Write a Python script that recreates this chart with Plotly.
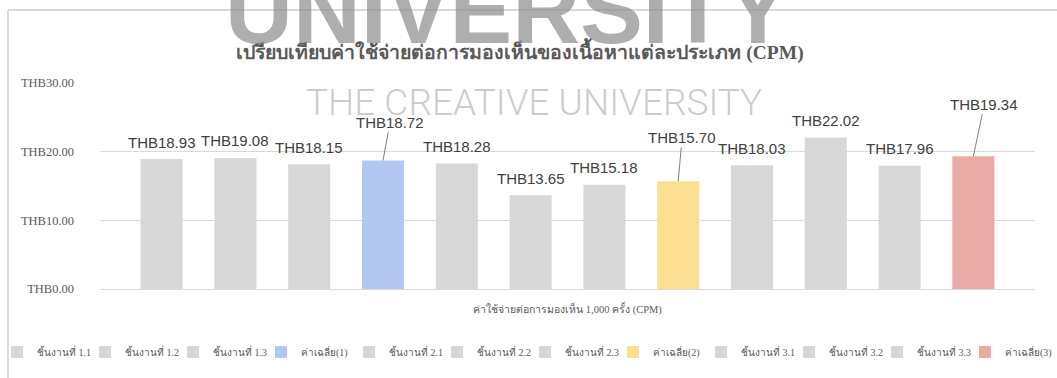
import plotly.graph_objects as go

# Cost per 1,000 impressions (THB) for each content piece and the group averages
series_names = [
    "ชิ้นงานที่ 1.1", "ชิ้นงานที่ 1.2", "ชิ้นงานที่ 1.3", "ค่าเฉลี่ย(1)",
    "ชิ้นงานที่ 2.1", "ชิ้นงานที่ 2.2", "ชิ้นงานที่ 2.3", "ค่าเฉลี่ย(2)",
    "ชิ้นงานที่ 3.1", "ชิ้นงานที่ 3.2", "ชิ้นงานที่ 3.3", "ค่าเฉลี่ย(3)",
]
cpm_values = [18.93, 19.08, 18.15, 18.72, 18.28, 13.65, 15.18, 15.70, 18.03, 22.02, 17.96, 19.34]
category_label = "ค่าใช้จ่ายต่อการมองเห็น 1,000 ครั้ง (CPM)"
y_ticks = [0, 10, 20, 30]
y_tick_labels = [f"THB{v:.2f}" for v in y_ticks]

GRAY = "#d7d7d7"
bar_colors = [GRAY, GRAY, GRAY, "#b4c6f2",
              GRAY, GRAY, GRAY, "#fadf90",
              GRAY, GRAY, GRAY, "#eaaaa6"]

# averages get a callout label joined to the bar by a leader line (pixel offsets)
callout_offsets = {3: (7, -38), 7: (4, -44), 11: (11, -52)}

SERIF = "Liberation Serif, Noto Serif, serif"
SANS = "Liberation Sans, Arial, sans-serif"

# plot area in pixels, used to place free text in paper coordinates
L, R, T, B = 100, 22, 83, 89
W, H = 1057, 378
PW, PH = W - L - R, H - T - B


def px(xp):
    return (xp - L) / PW


def py(yp):
    return (H - B - yp) / PH


# the legend row is split over two legend boxes so it never wraps
LEGEND_STEP = 88
LEGEND_X0 = -3
half = len(series_names) // 2

fig = go.Figure()
positions = list(range(len(series_names)))
for i, (name, val, col) in enumerate(zip(series_names, cpm_values, bar_colors)):
    last_in_box = i in (half - 1, len(series_names) - 1)
    fig.add_trace(go.Bar(
        x=[positions[i]], y=[val], name=name, width=0.57,
        marker=dict(color=col, line=dict(width=0)),
        hoverinfo="name+y",
        legend="legend" if i < half else "legend2",
        legendwidth=60 if last_in_box else None,
    ))

annotations = []
for i, val in enumerate(cpm_values):
    label = f"THB{val:.2f}"
    if i in callout_offsets:
        ax, ay = callout_offsets[i]
        annotations.append(dict(
            x=positions[i], y=val, xref="x", yref="y", text=label,
            showarrow=True, arrowhead=0, arrowwidth=1, arrowcolor="#7f7f7f",
            ax=ax, ay=ay, standoff=0,
            font=dict(family=SANS, size=15, color="#404040"),
        ))
    else:
        annotations.append(dict(
            x=positions[i], y=val, xref="x", yref="y", text=label,
            showarrow=False, yanchor="middle", yshift=17,
            font=dict(family=SANS, size=15, color="#404040"),
        ))

# watermark text
annotations.append(dict(
    x=px(507), y=py(11), xref="paper", yref="paper",
    text="<b>UNIVERSITY</b>", showarrow=False, xanchor="center", yanchor="middle",
    font=dict(family=SANS, size=94, color="rgba(140,140,140,0.7)"),
))
annotations.append(dict(
    x=px(534), y=py(102), xref="paper", yref="paper",
    text="THE CREATIVE UNIVERSITY", showarrow=False, xanchor="center", yanchor="middle",
    font=dict(family="Roboto", size=37, color="rgba(160,160,160,0.55)", weight=300),
))

legend_style = dict(
    orientation="h", xanchor="left", yanchor="middle", y=py(352),
    entrywidth=LEGEND_STEP - 45, entrywidthmode="pixels",
    font=dict(family=SERIF, size=10, color="#595959"),
    bgcolor="rgba(0,0,0,0)", traceorder="normal",
    itemclick=False, itemdoubleclick=False,
)

fig.update_layout(
    width=W, height=H,
    margin=dict(l=L, r=R, t=T, b=B, autoexpand=False),
    paper_bgcolor="white", plot_bgcolor="white",
    barmode="overlay",
    title=dict(
        text="<b>เปรียบเทียบค่าใช้จ่ายต่อการมองเห็นของเนื้อหาแต่ละประเภท (CPM)</b>",
        x=520 / W, xanchor="center", xref="container",
        y=1 - 52 / H, yanchor="middle", yref="container",
        font=dict(family=SERIF, size=19.5, color="#595959"),
    ),
    xaxis=dict(
        range=[-0.835, 11.835], tickvals=[5.5], ticktext=[category_label],
        showgrid=False, zeroline=False, showline=False, ticks="",
        ticklabelstandoff=12, automargin=False,
        tickfont=dict(family=SERIF, size=10.5, color="#595959"),
        fixedrange=True,
    ),
    yaxis=dict(
        range=[0, 30], tickvals=y_ticks, ticktext=y_tick_labels,
        showgrid=True, gridcolor="#d9d9d9", gridwidth=1,
        zeroline=True, zerolinecolor="#d9d9d9", zerolinewidth=1,
        showline=False, ticks="", ticklabelstandoff=25, automargin=False,
        tickfont=dict(family=SERIF, size=12.5, color="#595959"),
        fixedrange=True,
    ),
    legend=dict(x=px(LEGEND_X0), **legend_style),
    legend2=dict(x=px(LEGEND_X0 + half * LEGEND_STEP), **legend_style),
    annotations=annotations,
    shapes=[
        # chart frame (left and top edges)
        dict(type="line", xref="paper", yref="paper",
             x0=px(8), x1=px(8), y0=py(10), y1=py(H),
             line=dict(color="#d9d9d9", width=2)),
        dict(type="line", xref="paper", yref="paper",
             x0=px(8), x1=px(W), y0=py(10), y1=py(10),
             line=dict(color="#d9d9d9", width=2)),
    ],
    showlegend=True,
)

fig.write_html("out.html")
